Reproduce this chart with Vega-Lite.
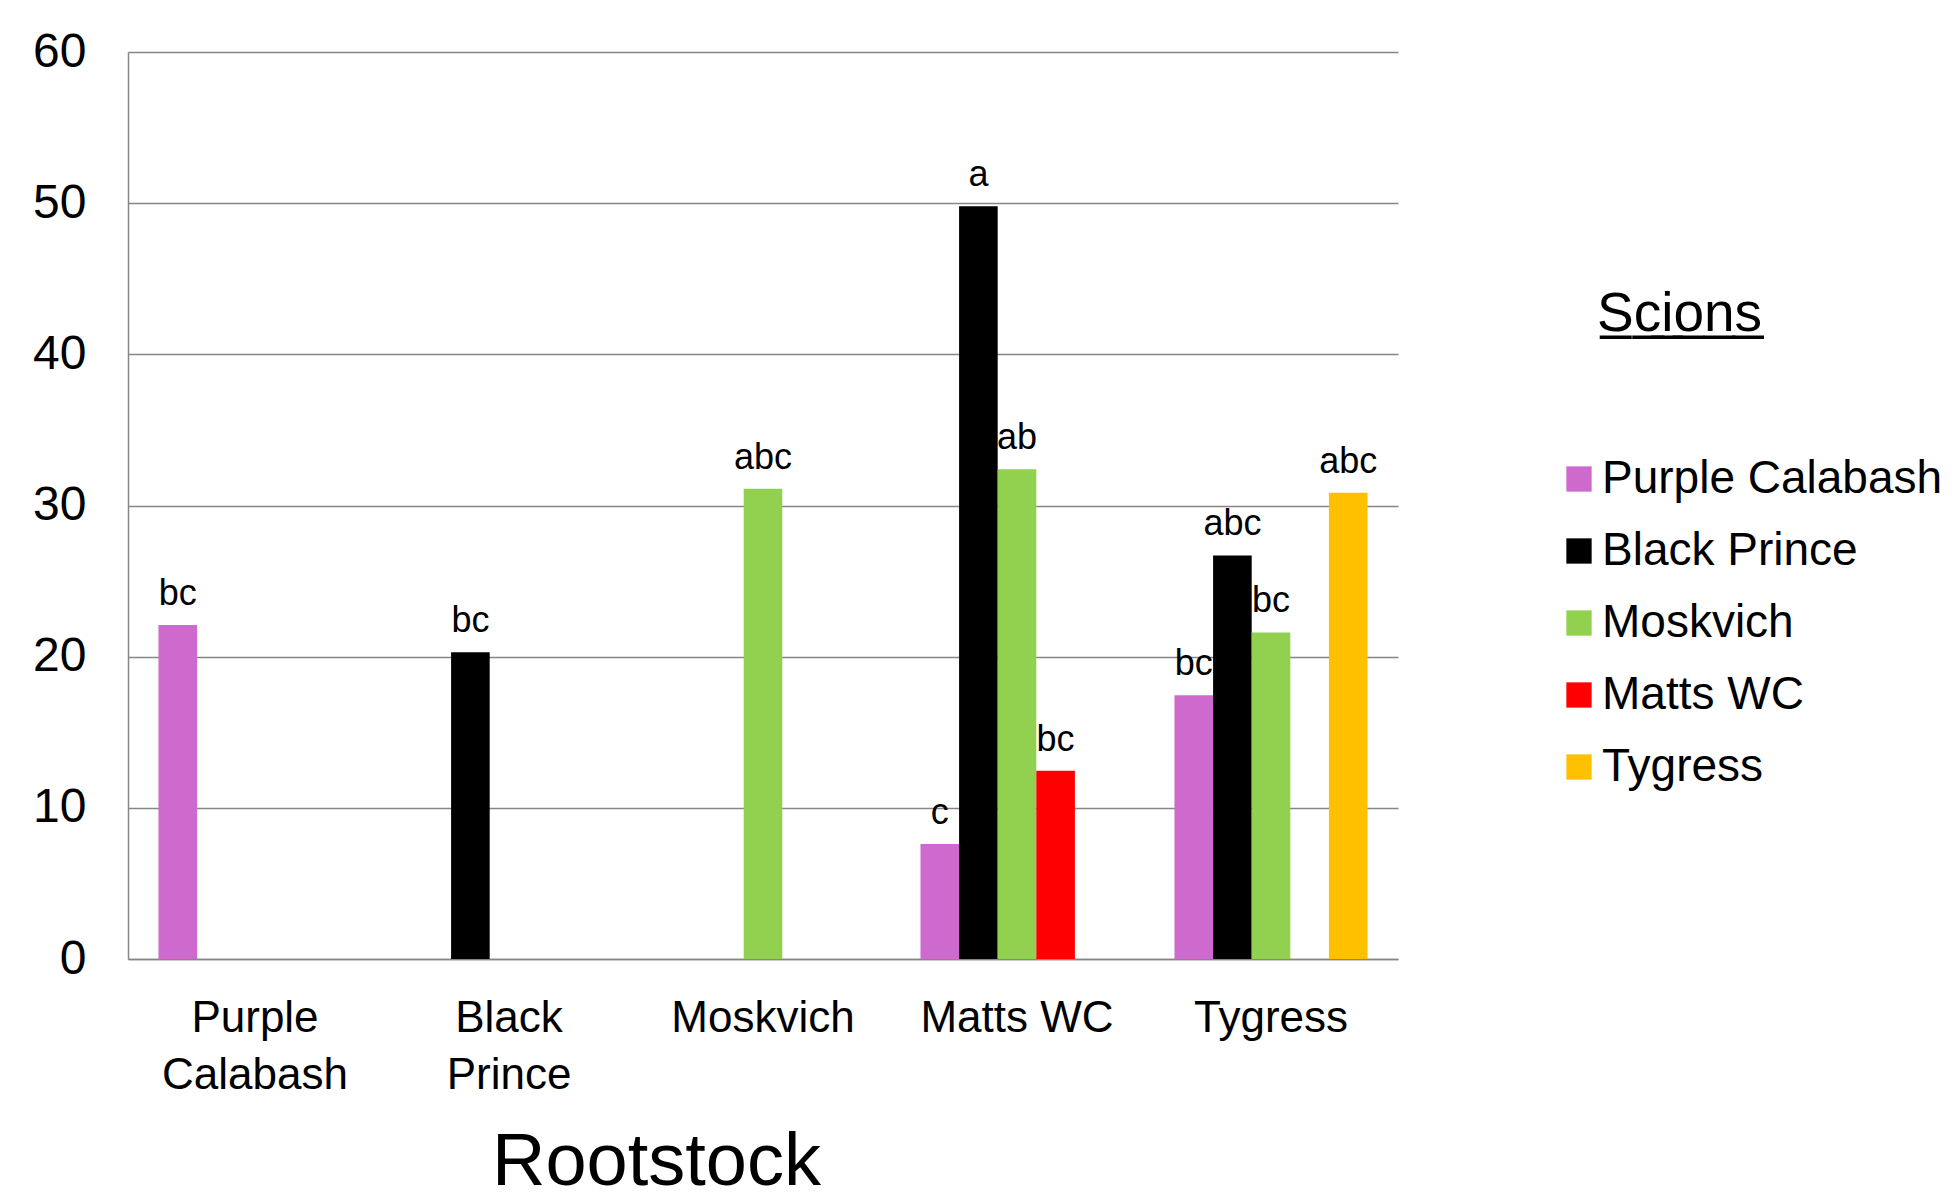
{
  "$schema": "https://vega.github.io/schema/vega-lite/v6.json",
  "width": 1270,
  "height": 907,
  "autosize": {"type": "none"},
  "padding": {"left": 128, "top": 52, "right": 554, "bottom": 240},
  "background": "white",
  "config": {"font": "Liberation Sans", "view": {"stroke": null}},
  "title": {
    "text": "S\u0332c\u0332i\u0332o\u0332n\u0332s\u0332",
    "anchor": "start",
    "frame": "group",
    "orient": "top",
    "offset": 0,
    "dx": 1469,
    "dy": 358,
    "fontSize": 55,
    "fontWeight": "normal",
    "color": "black",
    "baseline": "alphabetic"
  },
  "data": {
    "values": [
      {"rootstock": "Purple Calabash", "scion": "Purple Calabash", "value": 22.1, "letter": "bc"},
      {"rootstock": "Black Prince", "scion": "Black Prince", "value": 20.3, "letter": "bc"},
      {"rootstock": "Moskvich", "scion": "Moskvich", "value": 31.1, "letter": "abc"},
      {"rootstock": "Matts WC", "scion": "Purple Calabash", "value": 7.6, "letter": "c"},
      {"rootstock": "Matts WC", "scion": "Black Prince", "value": 49.8, "letter": "a"},
      {"rootstock": "Matts WC", "scion": "Moskvich", "value": 32.4, "letter": "ab"},
      {"rootstock": "Matts WC", "scion": "Matts WC", "value": 12.45, "letter": "bc"},
      {"rootstock": "Tygress", "scion": "Purple Calabash", "value": 17.45, "letter": "bc"},
      {"rootstock": "Tygress", "scion": "Black Prince", "value": 26.7, "letter": "abc"},
      {"rootstock": "Tygress", "scion": "Moskvich", "value": 21.6, "letter": "bc"},
      {"rootstock": "Tygress", "scion": "Tygress", "value": 30.85, "letter": "abc"}
    ]
  },
  "encoding": {
    "x": {
      "field": "rootstock",
      "type": "nominal",
      "sort": ["Purple Calabash", "Black Prince", "Moskvich", "Matts WC", "Tygress"],
      "scale": {"paddingInner": 0.24, "paddingOuter": 0.12},
      "axis": {
        "title": "Rootstock",
        "titleFontSize": 74,
        "titleFontWeight": "normal",
        "titleColor": "black",
        "titleX": 528,
        "titleY": 225,
        "titleBaseline": "alphabetic",
        "titleAlign": "center",
        "labelAngle": 0,
        "labelFontSize": 44,
        "labelLineHeight": 57,
        "labelPadding": 37,
        "labelColor": "black",
        "labelLimit": 400,
        "ticks": false,
        "domainColor": "#868686",
        "domainWidth": 1.5,
        "labelExpr": "indexof(['Purple Calabash','Black Prince'], datum.value) >= 0 ? split(datum.value, ' ') : datum.value"
      }
    },
    "xOffset": {
      "field": "scion",
      "type": "nominal",
      "sort": ["Purple Calabash", "Black Prince", "Moskvich", "Matts WC", "Tygress"],
      "scale": {"domain": ["Purple Calabash", "Black Prince", "Moskvich", "Matts WC", "Tygress"], "paddingInner": 0, "paddingOuter": 0}
    },
    "y": {
      "field": "value",
      "type": "quantitative",
      "scale": {"domain": [0, 60], "nice": false},
      "axis": {
        "title": null,
        "values": [0, 10, 20, 30, 40, 50, 60],
        "grid": true,
        "gridColor": "#868686",
        "gridWidth": 1.5,
        "domainColor": "#868686",
        "domainWidth": 1.5,
        "ticks": false,
        "labelFontSize": 48,
        "labelPadding": 42,
        "labelColor": "black"
      }
    }
  },
  "layer": [
    {
      "mark": {"type": "bar"},
      "encoding": {
        "color": {
          "field": "scion",
          "type": "nominal",
          "sort": ["Purple Calabash", "Black Prince", "Moskvich", "Matts WC", "Tygress"],
          "scale": {
            "domain": ["Purple Calabash", "Black Prince", "Moskvich", "Matts WC", "Tygress"],
            "range": ["#CE6ACE", "#000000", "#92D050", "#FF0000", "#FFC000"]
          },
          "legend": {
            "orient": "none",
            "legendX": 1428,
            "legendY": 404,
            "title": null,
            "labelFontSize": 46,
            "labelColor": "black",
            "labelLimit": 500,
            "labelOffset": 0,
            "symbolType": "square",
            "symbolSize": 640,
            "symbolStrokeWidth": 0,
            "symbolOpacity": 1,
            "rowPadding": 26,
            "padding": 0
          }
        }
      }
    },
    {
      "mark": {"type": "text", "baseline": "alphabetic", "dy": -20, "fontSize": 36, "color": "black"},
      "encoding": {"text": {"field": "letter"}}
    }
  ]
}
